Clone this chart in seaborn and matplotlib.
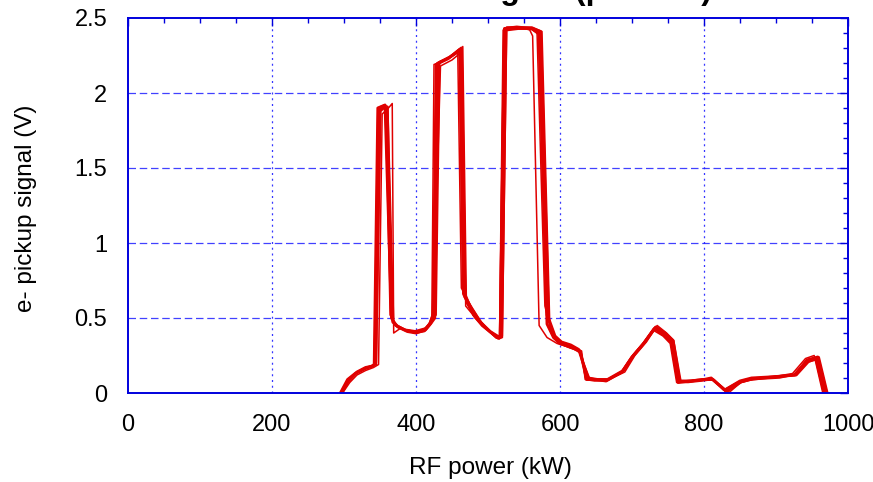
import matplotlib
matplotlib.use("Agg")
import matplotlib.pyplot as plt
from matplotlib.ticker import MultipleLocator, FormatStrFormatter
import numpy as np
import pandas as pd
import seaborn as sns

# RF power scans (kW) and e- pickup signal (V), one list pair per scan
run_a_kw = [297, 306, 316, 328, 339, 342, 347, 352, 357, 366, 372, 385, 399, 414, 421, 424,
            428, 445, 458, 463, 468, 478, 490, 503, 513, 517, 523, 540, 560, 571, 582, 591,
            600, 612, 628, 637, 650, 664, 686, 700, 716, 731, 745, 755, 764, 780, 799, 812,
            831, 848, 864, 901, 926, 943, 958, 970]
run_a_v = [0.00, 0.08, 0.13, 0.16, 0.18, 0.19, 1.90, 1.91, 1.92, 0.50, 0.45, 0.42, 0.41, 0.43, 0.47, 0.52,
           2.19, 2.23, 2.28, 2.30, 0.64, 0.56, 0.47, 0.41, 0.38, 0.37, 2.43, 2.44, 2.43, 2.40, 0.46, 0.37,
           0.33, 0.31, 0.28, 0.09, 0.09, 0.08, 0.14, 0.24, 0.33, 0.43, 0.39, 0.34, 0.07, 0.08, 0.09, 0.09,
           0.01, 0.07, 0.09, 0.11, 0.12, 0.22, 0.24, 0.00]

run_b_kw = [295, 305, 318, 330, 340, 344, 350, 355, 360, 368, 375, 388, 400, 413, 420, 426,
            431, 447, 457, 461, 466, 480, 492, 505, 512, 519, 525, 542, 562, 573, 584, 593,
            602, 615, 626, 639, 652, 666, 688, 702, 718, 733, 746, 757, 766, 782, 800, 810,
            829, 850, 866, 903, 928, 945, 956, 968]
run_b_v = [0.00, 0.09, 0.14, 0.17, 0.18, 0.20, 1.88, 1.90, 1.90, 0.48, 0.44, 0.41, 0.40, 0.42, 0.46, 0.50,
           2.20, 2.24, 2.27, 2.29, 0.68, 0.52, 0.45, 0.40, 0.37, 0.38, 2.42, 2.43, 2.43, 2.41, 0.50, 0.38,
           0.34, 0.32, 0.29, 0.10, 0.09, 0.09, 0.15, 0.25, 0.34, 0.44, 0.40, 0.35, 0.08, 0.08, 0.09, 0.10,
           0.02, 0.08, 0.10, 0.11, 0.12, 0.21, 0.23, 0.00]

run_c_kw = [298, 308, 318, 330, 341, 348, 353, 360, 367, 369, 378, 390, 401, 412, 419, 424,
            434, 450, 460, 465, 470, 482, 494, 506, 514, 520, 526, 544, 558, 562, 571, 582,
            596, 610, 630, 635, 648, 662, 684, 698, 714, 729, 743, 753, 762, 778, 797, 813,
            833, 852, 868, 905, 924, 940, 955, 966]
run_c_v = [0.00, 0.07, 0.12, 0.15, 0.17, 0.19, 1.86, 1.89, 1.93, 0.40, 0.43, 0.41, 0.40, 0.41, 0.45, 0.49,
           2.18, 2.22, 2.26, 2.31, 0.60, 0.50, 0.44, 0.39, 0.36, 0.37, 2.44, 2.44, 2.42, 2.38, 0.45, 0.37,
           0.33, 0.31, 0.28, 0.09, 0.08, 0.08, 0.13, 0.23, 0.32, 0.42, 0.38, 0.33, 0.07, 0.07, 0.08, 0.09,
           0.01, 0.07, 0.09, 0.10, 0.12, 0.20, 0.22, 0.00]

run_d_kw = [296, 307, 317, 329, 338, 343, 349, 354, 358, 364, 371, 386, 398, 410, 418, 422,
            425, 442, 455, 458, 463, 476, 488, 500, 510, 516, 521, 538, 556, 568, 579, 588,
            597, 613, 627, 641, 654, 668, 690, 704, 720, 735, 748, 758, 768, 784, 802, 814,
            827, 846, 862, 899, 923, 941, 953, 965]
run_d_v = [0.00, 0.08, 0.13, 0.16, 0.18, 0.19, 1.89, 1.91, 1.90, 0.52, 0.46, 0.42, 0.40, 0.42, 0.46, 0.51,
           2.19, 2.22, 2.26, 2.27, 0.70, 0.58, 0.49, 0.42, 0.38, 0.37, 2.42, 2.43, 2.43, 2.42, 0.58, 0.41,
           0.34, 0.31, 0.27, 0.10, 0.09, 0.09, 0.14, 0.25, 0.34, 0.45, 0.40, 0.35, 0.08, 0.08, 0.09, 0.09,
           0.02, 0.07, 0.09, 0.11, 0.13, 0.23, 0.25, 0.00]

run_e_kw = [297, 306, 316, 327, 340, 345, 351, 356, 361, 367, 374, 387, 399, 411, 419, 423,
            429, 446, 459, 464, 469, 481, 493, 504, 513, 518, 524, 541, 561, 575, 586, 595,
            605, 618, 629, 638, 651, 665, 687, 701, 717, 732, 747, 756, 765, 781, 798, 811,
            834, 851, 865, 902, 927, 944, 960, 972]
run_e_v = [0.00, 0.08, 0.13, 0.16, 0.18, 0.19, 1.91, 1.92, 1.91, 0.47, 0.44, 0.42, 0.41, 0.42, 0.47, 0.53,
           2.20, 2.24, 2.29, 2.30, 0.58, 0.51, 0.46, 0.40, 0.38, 0.37, 2.43, 2.44, 2.44, 2.41, 0.42, 0.35,
           0.32, 0.30, 0.27, 0.09, 0.09, 0.08, 0.14, 0.24, 0.33, 0.44, 0.39, 0.34, 0.07, 0.08, 0.09, 0.09,
           0.00, 0.07, 0.09, 0.11, 0.12, 0.22, 0.24, 0.00]

run_f_kw = [296, 305, 316, 328, 339, 342, 348, 353, 358, 365, 373, 386, 400, 413, 421, 428,
            433, 448, 456, 460, 465, 477, 489, 502, 511, 516, 522, 539, 559, 570, 581, 590,
            599, 614, 628, 636, 649, 663, 685, 699, 715, 730, 744, 754, 763, 779, 798, 812,
            830, 849, 863, 900, 925, 942, 957, 969]
run_f_v = [0.00, 0.08, 0.13, 0.16, 0.18, 0.19, 1.90, 1.91, 1.91, 0.51, 0.45, 0.42, 0.41, 0.42, 0.47, 0.52,
           2.21, 2.24, 2.27, 2.28, 0.66, 0.54, 0.48, 0.41, 0.37, 0.36, 2.43, 2.44, 2.43, 2.39, 0.52, 0.40,
           0.33, 0.30, 0.28, 0.09, 0.09, 0.08, 0.14, 0.24, 0.33, 0.43, 0.38, 0.34, 0.07, 0.08, 0.09, 0.09,
           0.01, 0.07, 0.09, 0.11, 0.12, 0.21, 0.23, 0.00]

x_ticks = [0, 200, 400, 600, 800, 1000]
y_ticks = [0, 0.5, 1, 1.5, 2, 2.5]

runs = {"A": (run_a_kw, run_a_v), "B": (run_b_kw, run_b_v), "C": (run_c_kw, run_c_v),
        "D": (run_d_kw, run_d_v), "E": (run_e_kw, run_e_v), "F": (run_f_kw, run_f_v)}

frames = []
for name, (kw, v) in runs.items():
    frames.append(pd.DataFrame({"kW": kw, "V": v, "run": name}))
df = pd.concat(frames, ignore_index=True)

sns.set_theme(style="white")
plt.rcParams["font.family"] = ["Liberation Sans", "DejaVu Sans"]

blue = "#0000dd"
red = "#e00000"

fig = plt.figure(figsize=(8.73, 4.82), dpi=100)
ax = fig.add_axes([128 / 873, 1 - 393 / 482, 720 / 873, 375 / 482])

# every scan as a thin trace, the two reference scans drawn heavier on top
sns.lineplot(data=df, x="kW", y="V", units="run", estimator=None, sort=False,
             color=red, lw=1.1, ax=ax, legend=False)
sns.lineplot(data=df[df["run"].isin(["A", "B"])], x="kW", y="V", units="run",
             estimator=None, sort=False, color=red, lw=2.1, ax=ax, legend=False)

ax.set_xlim(0, 1000)
ax.set_ylim(0, 2.5)
ax.set_xticks(x_ticks)
ax.set_yticks(y_ticks)
ax.xaxis.set_minor_locator(MultipleLocator(50))
ax.yaxis.set_minor_locator(MultipleLocator(0.1))
ax.yaxis.set_major_formatter(FormatStrFormatter("%g"))
ax.xaxis.set_major_formatter(FormatStrFormatter("%g"))
ax.set_xlabel("")
ax.set_ylabel("")

for y in y_ticks[1:-1]:
    ax.axhline(y, color="#2020ff", lw=0.9, ls=(0, (6.0, 3.0)), alpha=0.85, zorder=0.5)
for x in x_ticks[1:-1]:
    ax.axvline(x, color="#2020ff", lw=0.9, ls=(0, (1.6, 3.0)), alpha=0.9, zorder=0.5)

for s in ax.spines.values():
    s.set_visible(True)
    s.set_color(blue)
    s.set_linewidth(1.4)

ax.tick_params(which="both", direction="in", top=True, right=True, color=blue,
               labelcolor="black", labelsize=17)
ax.tick_params(which="major", length=6, width=1.0)
ax.tick_params(which="minor", length=3.5, width=1.0)
ax.tick_params(axis="x", which="major", pad=15)
ax.tick_params(axis="y", which="major", pad=15)

fig.text(26 / 873, 1 - 208 / 482, "e- pickup signal (V)", rotation=90,
         ha="center", va="center", fontsize=17.5, color="black")
fig.text(490 / 873, 1 - 468 / 482, "RF power (kW)", ha="center", va="center",
         fontsize=17.5, color="black")
fig.text(712 / 873, 1 + 1 / 482, "Electron signal (probe 2)", ha="right", va="baseline",
         fontsize=23, fontweight="bold", color="black")

fig.savefig("out.png", dpi=100)
